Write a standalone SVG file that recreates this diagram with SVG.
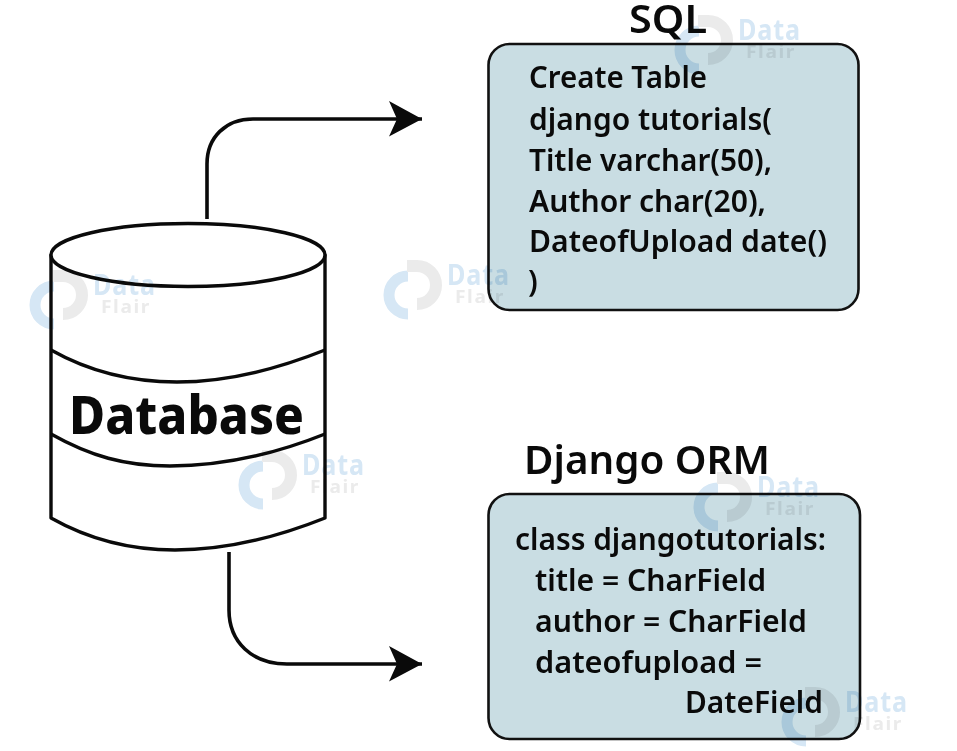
<svg xmlns="http://www.w3.org/2000/svg" width="957" height="751" viewBox="0 0 957 751">
<style>
.line{fill:none;stroke:#0a0a0a;stroke-width:3.6}
.box{fill:#c9dde3;stroke:#111;stroke-width:2.6}
.cyl{fill:#fff;stroke:#0a0a0a;stroke-width:3.4;stroke-linejoin:round}
.band{fill:none;stroke:#0a0a0a;stroke-width:3.4}
text{font-family:"Noto Sans","Open Sans","Liberation Sans",sans-serif;fill:#0a0a0a}
.body{font-size:30px;font-weight:600}
.head{font-size:40px;font-weight:600}
.db{font-size:53px;font-weight:800}
.wm{mix-blend-mode:multiply}
.wa{fill:none;stroke:#d6e7f5;stroke-width:11}
.wb{fill:none;stroke:#ebebeb;stroke-width:12}
.wd{font-size:28px;font-weight:700;fill:#d6e7f5;letter-spacing:1px}
.wf{font-size:18px;font-weight:700;fill:#ebebeb;letter-spacing:1.5px}
</style>
<defs>
<g id="mark">
<path class="wa" d="M-7 -14A19 19 0 0 0 -7 24"/>
<path class="wb" d="M-8 -24H2A19 19 0 0 1 2 14"/>
<text class="wd" x="32" y="-5" textLength="63" lengthAdjust="spacingAndGlyphs">Data</text>
<text class="wf" x="40" y="13" textLength="50" lengthAdjust="spacingAndGlyphs">Flair</text>
</g>
<marker id="head" markerUnits="userSpaceOnUse" markerWidth="36" markerHeight="38" refX="33" refY="18" orient="auto">
<path d="M0 0L33 18L0 35.5L8 18Z" fill="#0a0a0a"/>
</marker>
</defs>
<rect width="957" height="751" fill="#fff"/>
<g id="connectors">
<path class="line" marker-end="url(#head)" d="M207 219V164C207 137 226 119 253 119H422"/>
<path class="line" marker-end="url(#head)" d="M229 552V610C229 642 252 664 287 664H422"/>
</g>
<g id="database">
<path class="cyl" d="M51 255V518C90 540 130 550 175 550C225 550 275 538 325 518V255Z"/>
<ellipse class="cyl" cx="188" cy="255" rx="137" ry="31.5"/>
<path class="band" d="M51 350C90 372 130 382 177 382C225 382 275 370 325 350"/>
<path class="band" d="M51 434C90 456 125 466 170 466C225 466 275 454 325 434"/>
<text class="db" x="69" y="434" textLength="235" lengthAdjust="spacingAndGlyphs">Database</text>
</g>
<g id="sql">
<text class="head" x="629" y="33" textLength="78" lengthAdjust="spacingAndGlyphs">SQL</text>
<rect class="box" x="488.5" y="44" width="370" height="266" rx="21"/>
<text class="body" x="529" y="88" textLength="178" lengthAdjust="spacingAndGlyphs">Create Table</text>
<text class="body" x="529" y="130" textLength="243" lengthAdjust="spacingAndGlyphs">django tutorials(</text>
<text class="body" x="529" y="171" textLength="243" lengthAdjust="spacingAndGlyphs">Title varchar(50),</text>
<text class="body" x="529" y="212" textLength="237" lengthAdjust="spacingAndGlyphs">Author char(20),</text>
<text class="body" x="529" y="252" textLength="298" lengthAdjust="spacingAndGlyphs">DateofUpload date()</text>
<text class="body" x="528" y="292">)</text>
</g>
<g id="orm">
<text class="head" x="524" y="474" textLength="246" lengthAdjust="spacingAndGlyphs">Django ORM</text>
<rect class="box" x="488.5" y="494" width="371.5" height="245" rx="21"/>
<text class="body" x="515" y="550" textLength="311" lengthAdjust="spacingAndGlyphs">class djangotutorials:</text>
<text class="body" x="535" y="591" textLength="231" lengthAdjust="spacingAndGlyphs">title = CharField</text>
<text class="body" x="535" y="632" textLength="272" lengthAdjust="spacingAndGlyphs">author = CharField</text>
<text class="body" x="535" y="673" textLength="227" lengthAdjust="spacingAndGlyphs">dateofupload =</text>
<text class="body" x="685" y="713" textLength="138" lengthAdjust="spacingAndGlyphs">DateField</text>
</g>
<g id="watermarks">
<use class="wm" href="#mark" x="706" y="45"/>
<use class="wm" href="#mark" x="415" y="290"/>
<use class="wm" href="#mark" x="61" y="300"/>
<use class="wm" href="#mark" x="270" y="480"/>
<use class="wm" href="#mark" x="725" y="502"/>
<use class="wm" href="#mark" x="813" y="717"/>
</g>
</svg>
